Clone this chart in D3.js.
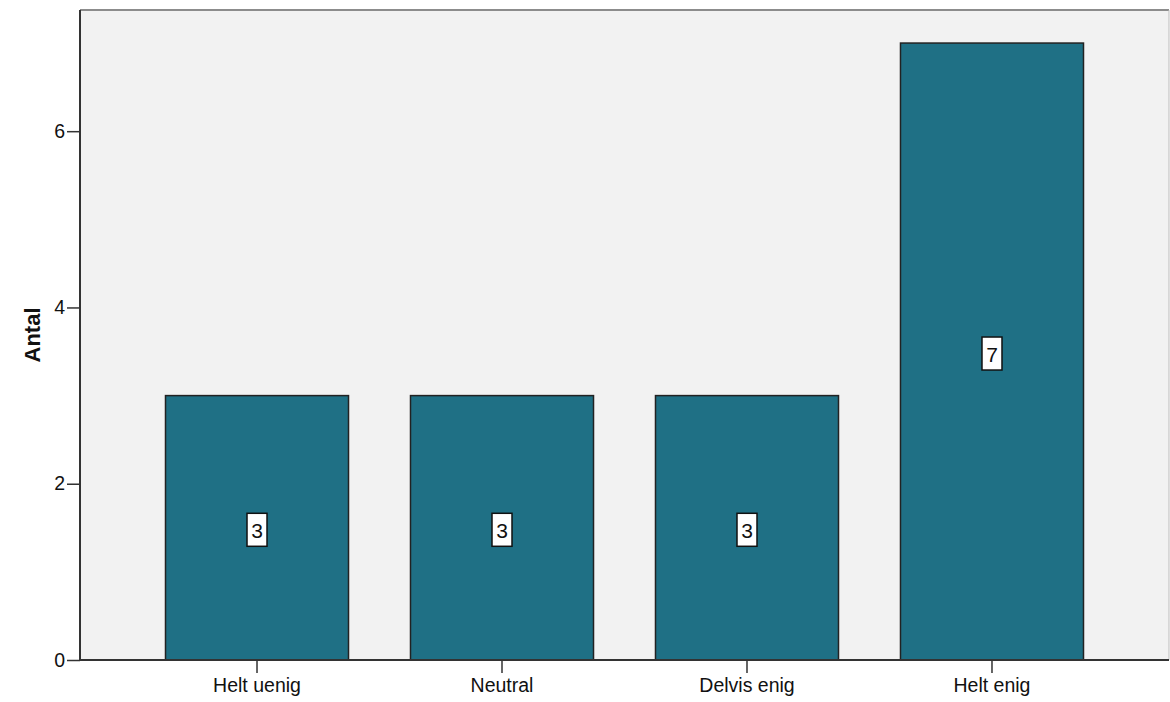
<!DOCTYPE html>
<html><head><meta charset="utf-8">
<script src="https://cdn.jsdelivr.net/npm/d3@7"></script>
<style>body{margin:0;background:#fff}svg{display:block}</style>
</head><body>
<svg id="c" width="1170" height="702"></svg>
<script>
const categories = ["Helt uenig", "Neutral", "Delvis enig", "Helt enig"];
const counts = [3, 3, 3, 7];
const yTicks = [0, 2, 4, 6];
const yTitle = "Antal";

const svg = d3.select("#c");
const FONT = "Liberation Sans, Arial, sans-serif";
const L = 80, R = 1169, T = 10, B = 660;
const x = d3.scaleBand().domain(categories).range([L, R]).paddingInner(0.253).paddingOuter(0.349);
const y = d3.scaleLinear().domain([0, 7.375]).range([B, T]);

svg.append("rect").attr("x", L).attr("y", T).attr("width", R - L).attr("height", B - T)
  .attr("fill", "#f2f2f2");
svg.append("line").attr("x1", L).attr("x2", R).attr("y1", T).attr("y2", T).attr("stroke", "#8c8c8c").attr("stroke-width", 2);
svg.append("line").attr("x1", R).attr("x2", R).attr("y1", T).attr("y2", B).attr("stroke", "#bdbdbd").attr("stroke-width", 1);

svg.selectAll("rect.bar").data(counts).join("rect").attr("class", "bar")
  .attr("x", (d, i) => x(categories[i])).attr("width", x.bandwidth())
  .attr("y", d => y(d)).attr("height", d => B - y(d))
  .attr("fill", "#1f7085").attr("stroke", "#222").attr("stroke-width", 1.5);

const lab = svg.selectAll("g.lab").data(counts).join("g").attr("class", "lab")
  .attr("transform", (d, i) => `translate(${x(categories[i]) + x.bandwidth() / 2},${y(d / 2) + 2})`);
lab.append("rect").attr("x", -10).attr("y", -16.5).attr("width", 20).attr("height", 33)
  .attr("fill", "#fff").attr("stroke", "#111").attr("stroke-width", 1.5);
lab.append("text").text(d => d).attr("text-anchor", "middle").attr("y", 8)
  .attr("font-family", FONT).attr("font-size", 21).attr("fill", "#111");

const ya = svg.append("g").attr("transform", `translate(${L},0)`)
  .call(d3.axisLeft(y).tickValues(yTicks).tickSize(13).tickPadding(2).tickFormat(d3.format("d")));
const xa = svg.append("g").attr("transform", `translate(0,${B})`)
  .call(d3.axisBottom(x).tickSize(13).tickPadding(5));
[ya, xa].forEach(a => {
  a.select(".domain").attr("stroke", "#333").attr("stroke-width", 2);
  a.selectAll(".tick line").attr("stroke", "#333").attr("stroke-width", 1.5);
  a.selectAll("text").attr("font-family", FONT).attr("font-size", 19.5).attr("fill", "#111");
});
ya.select(".domain").attr("d", `M0,${T}V${B}`);
xa.select(".domain").attr("d", `M${L},0H${R}`);

svg.append("text").text(yTitle).attr("transform", `translate(40,${(T + B) / 2}) rotate(-90)`)
  .attr("text-anchor", "middle")
  .attr("font-family", FONT).attr("font-weight", "bold").attr("font-size", 22).attr("fill", "#111");
</script>
</body></html>
